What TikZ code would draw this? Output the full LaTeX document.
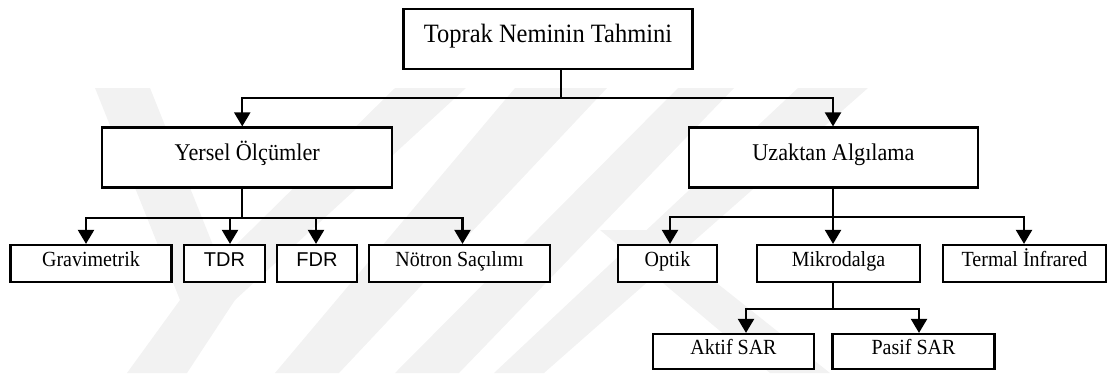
\documentclass[tikz,border=0pt]{standalone}
\usepackage{fontspec}
\setmainfont{Liberation Serif}
\newfontfamily\arialfont{Liberation Sans}
\usetikzlibrary{arrows.meta}
% labels are set slightly taller than the font's natural proportions
\newcommand{\tallabel}[1]{\scalebox{1}[1.08]{#1}}
\begin{document}
\begin{tikzpicture}[x=1pt,y=-1pt,
  box/.style={draw=black, line width=2.2pt, fill=white, inner sep=0pt,
    minimum height=37pt, text height=0.68em, text depth=0pt,
    font=\fontsize{20}{24}\selectfont},
  bigbox/.style={box, minimum height=60pt, font=\fontsize{22.2}{26}\selectfont},
  topbox/.style={box, minimum height=60pt, font=\fontsize{24.5}{28}\selectfont},
  sansbox/.style={box, font=\arialfont\fontsize{20}{24}\selectfont},
  trunk/.style={line width=2.2pt},
  link/.style={line width=2.2pt, -{Triangle[width=16pt,length=14pt]}},
  wmband/.style={fill=black!5, draw=none}
]
\useasboundingbox (0,0) rectangle (1107,373);

% faint background emblem
\begin{scope}
  \clip (0,88) rectangle (1107,373);
  \fill[wmband] (95,88) -- (150,88) -- (235,300) -- (180,300) -- cycle;
  \fill[wmband] (395,88) -- (466,88) -- (235,300) -- (180,300) -- cycle;
  \fill[wmband] (180,300) -- (235,300) -- (187,373) -- (127,373) -- cycle;
  \fill[wmband] (515,88) -- (607,88) -- (339,373) -- (275,373) -- cycle;
  \fill[wmband] (678,88) -- (734,88) -- (459,373) -- (395,373) -- cycle;
  \fill[wmband] (798,88) -- (868,88) -- (544,373) -- (494,373) -- cycle;
  \fill[wmband] (600,230) -- (650,230) -- (830,373) -- (770,373) -- cycle;
\end{scope}

% boxes
\node[topbox, minimum width=289pt] (top) at (548,39) {\tallabel{Toprak Neminin Tahmini}};

\node[bigbox, minimum width=290pt] (yer) at (247.25,157.5) {\tallabel{Yersel Ölçümler}};
\node[bigbox, minimum width=289pt] (uza) at (833.5,157.5) {\tallabel{Uzaktan Algılama}};

\node[box, minimum width=161pt] (grav) at (91,263.5) {\tallabel{Gravimetrik}};
\node[sansbox, minimum width=81pt] (tdr) at (224.5,263.5) {TDR};
\node[sansbox, minimum width=80pt] (fdr) at (317,263.5) {FDR};
\node[box, minimum width=181pt] (not) at (459.5,263.5) {\tallabel{Nötron Saçılımı}};

\node[box, minimum width=99pt] (opt) at (667.5,263.5) {\tallabel{Optik}};
\node[box, minimum width=163pt] (mik) at (838.5,263.5) {\tallabel{Mikrodalga}};
\node[box, minimum width=163pt] (ter) at (1024.5,263.5) {\tallabel{Termal İnfrared}};

\node[box, minimum width=161pt, minimum height=35pt] (akt) at (733.5,351.5) {\tallabel{Aktif SAR}};
\node[box, minimum width=162pt, minimum height=35pt] (pas) at (913.5,351.5) {\tallabel{Pasif SAR}};

% connectors
\draw[trunk] ([xshift=13pt]top.south) -- ++(0,28) coordinate (j0);
\draw[link] (j0) -| ([xshift=-5pt]yer.north);
\draw[link] (j0) -| ([xshift=-0.5pt]uza.north);

\draw[trunk] ([xshift=-5pt]yer.south) -- ++(0,29.5) coordinate (j1);
\draw[link] (j1) -| ([xshift=-5pt]grav.north);
\draw[link] (j1) -| ([xshift=5.5pt]tdr.north);
\draw[link] (j1) -| ([xshift=-1pt]fdr.north);
\draw[link] (j1) -| ([xshift=3pt]not.north);

\draw[trunk] ([xshift=-0.5pt]uza.south) -- ++(0,28) coordinate (j2);
\draw[link] (j2) -| ([xshift=2.5pt]opt.north);
\draw[link] (j2) -- ([xshift=-5.5pt]mik.north);
\draw[link] (j2) -| ([xshift=-0.5pt]ter.north);

\draw[trunk] ([xshift=-5.5pt]mik.south) -- ++(0,26) coordinate (j3);
\draw[link] (j3) -| ([xshift=12.5pt]akt.north);
\draw[link] (j3) -| ([xshift=5.5pt]pas.north);
\end{tikzpicture}
\end{document}
